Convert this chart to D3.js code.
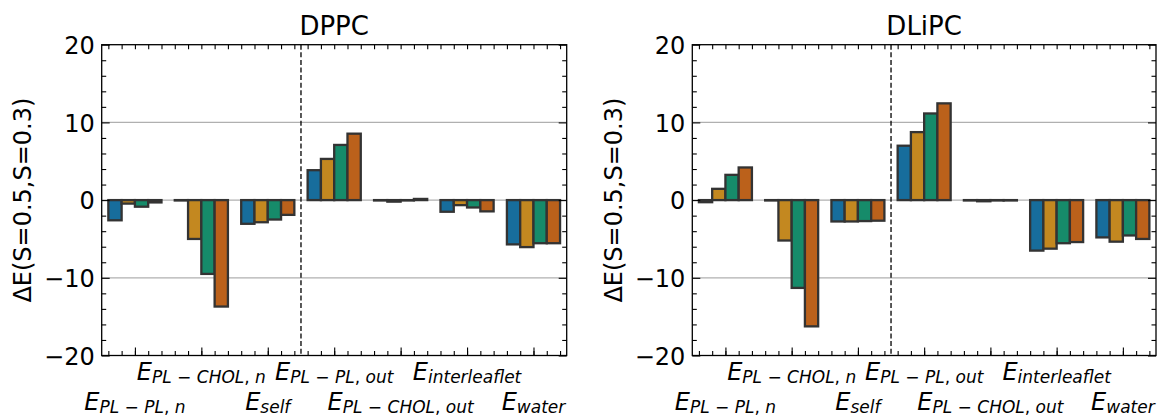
<!DOCTYPE html>
<html>
<head>
<meta charset="utf-8">
<script src="https://cdn.jsdelivr.net/npm/d3@7"></script>
<style>
  body { margin: 0; background: #fff; }
  svg { display: block; }
  text { font-family: "DejaVu Sans", sans-serif; fill: #000; }
</style>
</head>
<body>
<svg id="chart" width="1161" height="417"></svg>
<script>
// Energy-term categories (subscripts of E)
const categorySubs = ["PL − PL, n", "PL − CHOL, n", "self", "PL − PL, out",
                      "PL − CHOL, out", "interleaflet", "water"];
const yMajorTicks = [-20, -10, 0, 10, 20];
const yTickLabels = ["−20", "−10", "0", "10", "20"];
const yGridValues = [-10, 0, 10];
const yLabel = "ΔE(S=0.5,S=0.3)";
const seriesColors = ["#176D9C", "#C38820", "#168B6A", "#BB611B"];

// DPPC: four series across the seven energy terms
const dppcA = [-2.6, -0.05, -3.05, 3.85, -0.05, -1.5, -5.7];
const dppcB = [-0.45, -5.0, -2.85, 5.3, -0.2, -0.65, -6.05];
const dppcC = [-0.85, -9.5, -2.5, 7.1, -0.05, -0.95, -5.55];
const dppcD = [-0.3, -13.7, -1.9, 8.55, 0.15, -1.45, -5.55];

// DLiPC
const dlipcA = [-0.27, -0.05, -2.75, 7.0, -0.05, -6.5, -4.8];
const dlipcB = [1.45, -5.2, -2.75, 8.75, -0.15, -6.25, -5.35];
const dlipcC = [3.25, -11.3, -2.7, 11.15, -0.05, -5.55, -4.55];
const dlipcD = [4.2, -16.25, -2.65, 12.45, -0.05, -5.4, -5.0];

const panels = [
  { title: "DPPC", series: [dppcA, dppcB, dppcC, dppcD], left: 101.7, right: 566.7 },
  { title: "DLiPC", series: [dlipcA, dlipcB, dlipcC, dlipcD], left: 692.3, right: 1156 }
];

const plotTop = 44.7, plotBottom = 355.5;
const svg = d3.select("#chart");
svg.append("rect").attr("width", 1161).attr("height", 417).attr("fill", "#fff");

const xMinor = d3.range(35).map(k => Math.round((-0.4 + 0.2 * k) * 10) / 10);
const xMajor = d3.range(categorySubs.length);
const yMinor = d3.range(-20, 21, 2).filter(v => v % 10 !== 0);

panels.forEach(p => {
  const g = svg.append("g");
  const x = d3.scaleLinear().domain([-0.5, 6.5]).range([p.left, p.right]);
  const y = d3.scaleLinear().domain([-20, 20]).range([plotBottom, plotTop]);
  const barW = x(0.2) - x(0);

  // horizontal grid
  g.selectAll("line.grid").data(yGridValues).join("line")
    .attr("x1", p.left).attr("x2", p.right)
    .attr("y1", d => y(d)).attr("y2", d => y(d))
    .attr("stroke", "#b0b0b0").attr("stroke-width", 1.2);

  // bars
  p.series.forEach((vals, j) => {
    g.selectAll(null).data(vals).join("rect")
      .attr("x", (d, i) => x(i - 0.4 + 0.2 * j))
      .attr("width", barW)
      .attr("y", d => y(Math.max(d, 0)))
      .attr("height", d => Math.abs(y(d) - y(0)))
      .attr("fill", seriesColors[j])
      .attr("stroke", "#333333")
      .attr("stroke-width", 2.3);
  });

  // separator between the "n" and "out" terms
  g.append("line")
    .attr("x1", x(2.5)).attr("x2", x(2.5))
    .attr("y1", plotTop).attr("y2", plotBottom)
    .attr("stroke", "#000").attr("stroke-width", 1.3)
    .attr("stroke-dasharray", "5,2.6");

  // axes with inward ticks
  const tickStyle = sel => {
    sel.select(".domain").remove();
    sel.selectAll(".tick line").attr("stroke", "#000").attr("stroke-width", 1.1);
  };
  g.append("g").attr("transform", `translate(${p.left},0)`)
    .call(d3.axisLeft(y).tickValues(yMajorTicks).tickSize(-8).tickPadding(7)
      .tickFormat((d, i) => yTickLabels[i]))
    .call(tickStyle)
    .call(s => s.selectAll("text").attr("font-size", 24).attr("dy", "0.36em")
      .style("font-family", "DejaVu Sans"));
  g.append("g").attr("transform", `translate(${p.left},0)`)
    .call(d3.axisLeft(y).tickValues(yMinor).tickSize(-4.5).tickFormat(""))
    .call(tickStyle);
  g.append("g").attr("transform", `translate(${p.right},0)`)
    .call(d3.axisRight(y).tickValues(yMajorTicks).tickSize(-8).tickFormat(""))
    .call(tickStyle);
  g.append("g").attr("transform", `translate(${p.right},0)`)
    .call(d3.axisRight(y).tickValues(yMinor).tickSize(-4.5).tickFormat(""))
    .call(tickStyle);
  g.append("g").attr("transform", `translate(0,${plotBottom})`)
    .call(d3.axisBottom(x).tickValues(xMinor).tickSize(-4.5).tickFormat(""))
    .call(tickStyle);
  g.append("g").attr("transform", `translate(0,${plotBottom})`)
    .call(d3.axisBottom(x).tickValues(xMajor).tickSize(-8).tickFormat(""))
    .call(tickStyle);
  g.append("g").attr("transform", `translate(0,${plotTop})`)
    .call(d3.axisTop(x).tickValues(xMinor).tickSize(-4.5).tickFormat(""))
    .call(tickStyle);

  // frame
  g.append("rect")
    .attr("x", p.left).attr("y", plotTop)
    .attr("width", p.right - p.left).attr("height", plotBottom - plotTop)
    .attr("fill", "none").attr("stroke", "#000").attr("stroke-width", 1.3);

  // title
  g.append("text")
    .attr("x", (p.left + p.right) / 2).attr("y", 35)
    .attr("text-anchor", "middle").attr("font-size", 26)
    .text(p.title);

  // y label
  g.append("text")
    .attr("transform", `translate(${p.left - 70.5},${(plotTop + plotBottom) / 2}) rotate(-90)`)
    .attr("text-anchor", "middle").attr("font-size", 24)
    .text(yLabel);

  // category labels, staggered on two rows
  categorySubs.forEach((sub, i) => {
    const t = g.append("text")
      .attr("x", x(i))
      .attr("y", i % 2 === 1 ? 380 : 410)
      .attr("text-anchor", "middle");
    t.append("tspan").attr("font-size", 24).attr("font-style", "italic").text("E");
    const parts = sub.match(/[A-Za-z]+|[^A-Za-z]+/g);
    parts.forEach((part, k) => {
      const ts = t.append("tspan").attr("font-size", 17)
        .attr("font-style", /[A-Za-z]/.test(part) ? "italic" : "normal")
        .text(part);
      if (k === 0) ts.attr("dy", 2.5);
    });
  });
});
</script>
</body>
</html>
